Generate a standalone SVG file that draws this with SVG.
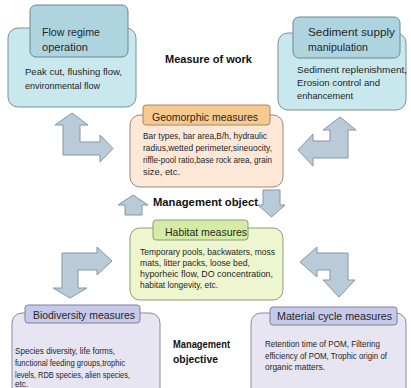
<svg xmlns="http://www.w3.org/2000/svg" width="411" height="388" viewBox="0 0 411 388">
<style>
text{font-family:"Liberation Sans",Arial,sans-serif;fill:#262626}
.t{font-size:11.5px}
.b{font-size:9px}
.h{font-size:11px;font-weight:bold;fill:#111}
.cyo{fill:#c8e8ee;stroke:#7a9198;stroke-width:1}
.cyt{fill:#aed5df;stroke:#6f868e;stroke-width:1}
.oro{fill:#fde7d7;stroke:#9c8a7c;stroke-width:1}
.ort{fill:#f8c98c;stroke:#a08870;stroke-width:1}
.gro{fill:#edf6cf;stroke:#8f9c78;stroke-width:1}
.grt{fill:#d6eba3;stroke:#8f9c78;stroke-width:1}
.lvo{fill:#e7e5f2;stroke:#8a8a9c;stroke-width:1}
.lvt{fill:#c6c9e9;stroke:#7f809a;stroke-width:1}
.arr{fill:#b9cbd8;stroke:#8796a0;stroke-width:1}
</style>
<rect width="411" height="388" fill="#fff"/>
<g id="flow">
<rect class="cyo" x="8" y="28" width="128" height="79" rx="10"/>
<rect class="cyt" x="30" y="5" width="98" height="52" rx="6"/>
<text class="t" x="42" y="36" textLength="58" lengthAdjust="spacingAndGlyphs">Flow regime</text>
<text class="t" x="42" y="51" textLength="46" lengthAdjust="spacingAndGlyphs">operation</text>
<text class="b" x="25" y="75" textLength="97" lengthAdjust="spacingAndGlyphs">Peak cut, flushing flow,</text>
<text class="b" x="25" y="89" textLength="75" lengthAdjust="spacingAndGlyphs">environmental flow</text>
</g>
<g id="sediment">
<rect class="cyo" x="278" y="33" width="128" height="77" rx="10"/>
<rect class="cyt" x="293" y="17" width="107" height="41" rx="6"/>
<text class="t" x="308" y="36" textLength="87" lengthAdjust="spacingAndGlyphs">Sediment supply</text>
<text class="t" x="308" y="51" textLength="60" lengthAdjust="spacingAndGlyphs">manipulation</text>
<text class="b" x="297" y="73" textLength="110" lengthAdjust="spacingAndGlyphs">Sediment replenishment,</text>
<text class="b" x="297" y="86" textLength="83" lengthAdjust="spacingAndGlyphs">Erosion control and</text>
<text class="b" x="297" y="99" textLength="56" lengthAdjust="spacingAndGlyphs">enhancement</text>
</g>
<g id="geomorphic">
<rect class="oro" x="130" y="115" width="153" height="72" rx="10"/>
<rect class="ort" x="143" y="105" width="127" height="20" rx="3"/>
<text class="t" x="152" y="121" textLength="106" lengthAdjust="spacingAndGlyphs">Geomorphic measures</text>
<text class="b" x="143" y="139" textLength="124" lengthAdjust="spacingAndGlyphs">Bar types, bar area,B/h, hydraulic</text>
<text class="b" x="143" y="151" textLength="129" lengthAdjust="spacingAndGlyphs">radius,wetted perimeter,sineuocity,</text>
<text class="b" x="143" y="163" textLength="129" lengthAdjust="spacingAndGlyphs">riffle-pool ratio,base rock area, grain</text>
<text class="b" x="143" y="175" textLength="37" lengthAdjust="spacingAndGlyphs">size,  etc.</text>
</g>
<g id="habitat">
<rect class="gro" x="130" y="228" width="153" height="72" rx="10"/>
<rect class="grt" x="153" y="220" width="95" height="20" rx="3"/>
<text class="t" x="165" y="236" textLength="82" lengthAdjust="spacingAndGlyphs">Habitat measures</text>
<text class="b" x="140" y="255" textLength="135" lengthAdjust="spacingAndGlyphs">Temporary pools, backwaters, moss</text>
<text class="b" x="140" y="266" textLength="110" lengthAdjust="spacingAndGlyphs">mats, litter packs, loose bed,</text>
<text class="b" x="140" y="277" textLength="133" lengthAdjust="spacingAndGlyphs">hyporheic flow, DO concentration,</text>
<text class="b" x="140" y="288" textLength="78" lengthAdjust="spacingAndGlyphs">habitat longevity, etc.</text>
</g>
<g id="biodiversity">
<rect class="lvo" x="12" y="313" width="148" height="85" rx="10"/>
<rect class="lvt" x="25" y="305" width="115" height="18" rx="3"/>
<text class="t" x="33" y="319" textLength="102" lengthAdjust="spacingAndGlyphs">Biodiversity measures</text>
<text class="b" x="15" y="354" textLength="100" lengthAdjust="spacingAndGlyphs">Species diversity, life forms,</text>
<text class="b" x="15" y="366" textLength="110" lengthAdjust="spacingAndGlyphs">functional feeding groups,trophic</text>
<text class="b" x="15" y="378" textLength="115" lengthAdjust="spacingAndGlyphs">levels, RDB species, alien species,</text>
<text class="b" x="15" y="387" textLength="13" lengthAdjust="spacingAndGlyphs">etc.</text>
</g>
<g id="material">
<rect class="lvo" x="251" y="313" width="155" height="85" rx="10"/>
<rect class="lvt" x="270" y="307" width="127" height="18" rx="3"/>
<text class="t" x="277" y="320" textLength="115" lengthAdjust="spacingAndGlyphs">Material cycle measures</text>
<text class="b" x="265" y="347" textLength="115" lengthAdjust="spacingAndGlyphs">Retention time of POM, Filtering</text>
<text class="b" x="265" y="359" textLength="122" lengthAdjust="spacingAndGlyphs">efficiency of POM, Trophic origin of</text>
<text class="b" x="265" y="370" textLength="60" lengthAdjust="spacingAndGlyphs">organic matters.</text>
</g>
<g id="labels">
<text class="h" x="165" y="63" textLength="87" lengthAdjust="spacingAndGlyphs">Measure of work</text>
<text class="h" x="153" y="206" textLength="105" lengthAdjust="spacingAndGlyphs">Management object</text>
<text class="h" x="173" y="348" textLength="57" lengthAdjust="spacingAndGlyphs">Management</text>
<text class="h" x="173" y="363" textLength="45" lengthAdjust="spacingAndGlyphs">objective</text>
</g>
<g id="connectors">
<polygon class="arr" points="72,113 88,125 80,125 80,142 100,142 100,135 113,148.5 100,162 100,155 63,155 63,125 55,125"/>
<polygon class="arr" points="340,117 356,130 348,130 348,158 313,158 313,166 298,150 313,134 313,141 330,141 330,130 323,130"/>
<polygon class="arr" points="62,253 97,253 97,247 112,261 97,275 97,270 78,270 78,288 87,288 70,298 53,288 62,288"/>
<polygon class="arr" points="348,253 317,253 317,247 300,262 317,277 317,270 330,270 330,280 323,280 339,297 355,280 348,280"/>
<polygon class="arr" points="133,195 148,205 142,205 142,215 125,215 125,205 118,205"/>
<polygon class="arr" points="263,190 280,190 280,205 285,205 271.5,217 258,205 263,205"/>
</g>
</svg>
